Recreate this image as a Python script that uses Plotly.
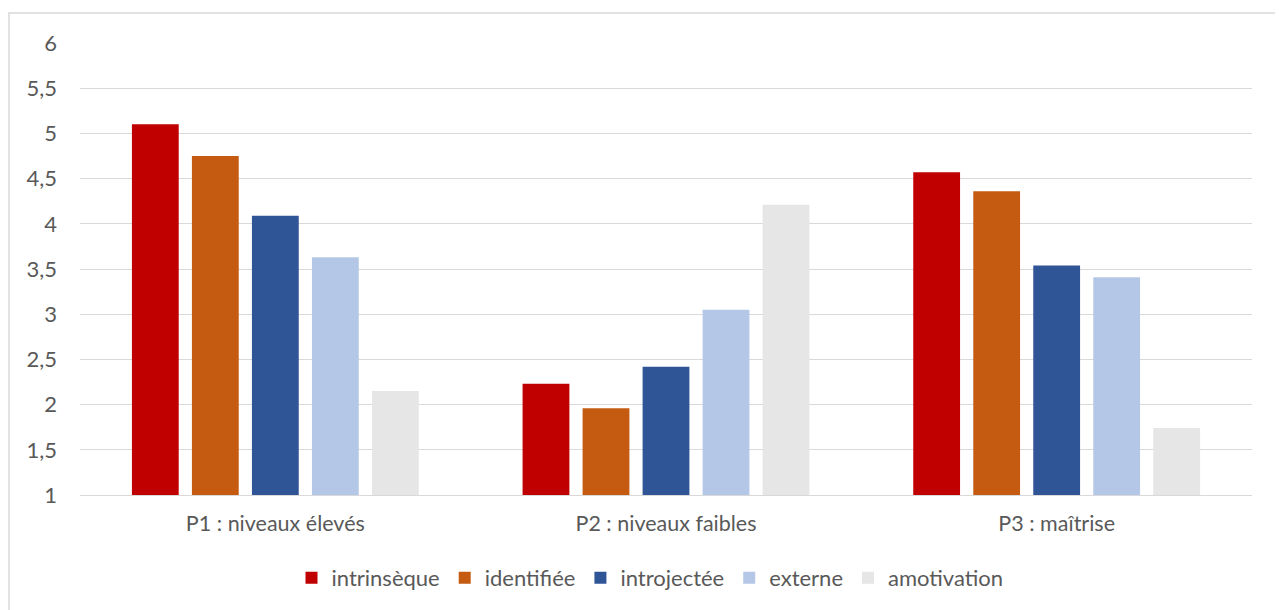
import plotly.graph_objects as go

categories = ["P1 : niveaux élevés", "P2 : niveaux faibles", "P3 : maîtrise"]
series_names = ["intrinsèque", "identifiée", "introjectée", "externe", "amotivation"]
intrinseque = [5.10, 2.23, 4.57]
identifiee = [4.75, 1.96, 4.36]
introjectee = [4.09, 2.42, 3.54]
externe = [3.63, 3.05, 3.41]
amotivation = [2.15, 4.21, 1.74]
colors = ["#C00000", "#C55A11", "#2F5597", "#B4C7E7", "#E7E6E6"]
y_ticks = [1, 1.5, 2, 2.5, 3, 3.5, 4, 4.5, 5, 5.5, 6]

values = [intrinseque, identifiee, introjectee, externe, amotivation]

fig = go.Figure()
for name, vals, col in zip(series_names, values, colors):
    fig.add_trace(go.Bar(name=name, x=categories, y=vals, marker_color=col,
                         marker_line_width=0))

# page body has an 8px margin: work in figure coordinates = screen - 8
OFF = 8
W, H = 1283 - OFF, 610 - OFF
L = 80 - OFF
T = 43 - OFF
R = W - (1252 - OFF)
B = H - (495 - OFF)
pw, ph = W - L - R, H - T - B

def px_x(x):
    return (x - OFF - L) / pw

def px_y(y):
    return (H - B - (y - OFF)) / ph

FONT = "Lato, Carlito, Calibri, sans-serif"

fig.update_layout(
    width=W, height=H,
    margin=dict(l=L, r=R, t=T, b=B, autoexpand=False),
    paper_bgcolor="white", plot_bgcolor="white",
    separators=", ",
    barmode="group", bargap=0.232, bargroupgap=0.22,
    font=dict(family=FONT, color="#595959", size=22),
    yaxis=dict(range=[1, 6], tickvals=y_ticks, showgrid=True, gridcolor="#D9D9D9",
               gridwidth=1.3, zeroline=False, showline=False, ticks="",
               tickfont=dict(family=FONT, size=22, color="#595959"), ticklabelstandoff=22),
    xaxis=dict(showline=True, linecolor="#D9D9D9", linewidth=1.3, ticks="",
               tickfont=dict(family=FONT, size=21.5, color="#595959"), ticklabelstandoff=9),
    legend=dict(orientation="h", x=px_x(650), xanchor="center", y=px_y(578), yanchor="middle",
                font=dict(family=FONT, size=22, color="#595959"), itemwidth=30,
                traceorder="normal"),
    showlegend=True,
    shapes=[dict(type="rect", xref="paper", yref="paper",
                 x0=px_x(9), x1=px_x(1281), y0=px_y(612), y1=px_y(13),
                 line=dict(color="#D9D9D9", width=1.5), fillcolor="rgba(0,0,0,0)", layer="below")],
)

fig.write_html("out.html")
